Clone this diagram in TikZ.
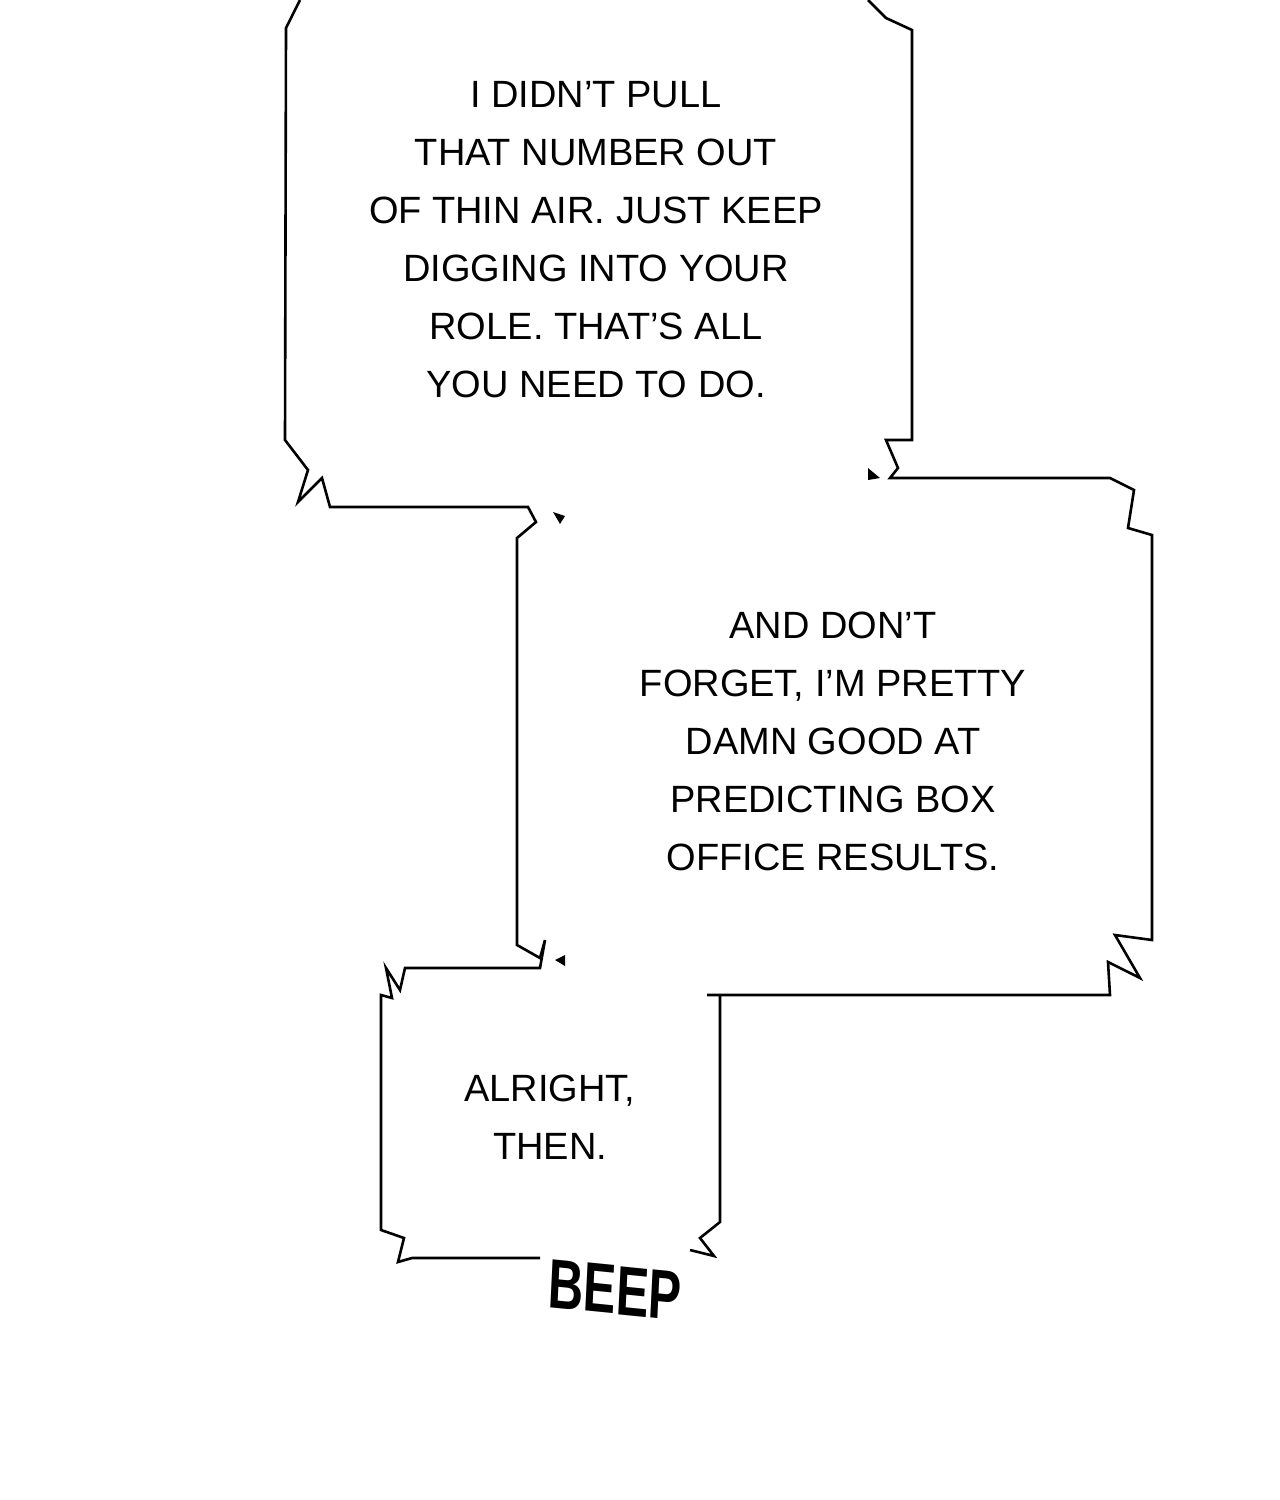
\documentclass[tikz,border=0pt]{standalone}
\usepackage{fontspec}
\setmainfont{Liberation Sans}
\begin{document}
\begin{tikzpicture}[x=1pt,y=-1pt]
\tikzset{outline/.style={line width=2.6pt,line join=miter},
 talk/.style={align=center,font=\fontsize{38}{58}\selectfont}}
\useasboundingbox (0,0) rectangle (1280,1500);
% left side of the boxes
\draw[outline] (300,0) -- (286,28) -- (285,440) -- (308,470) -- (298,502) -- (322,478) -- (330,507)
  -- (528,507) -- (536,522) -- (517,538) -- (517,945) -- (540,958) -- (545,940) -- (540,968)
  -- (405,968) -- (400,990) -- (386,968) -- (392,998) -- (381,995) -- (381,1230) -- (404,1238)
  -- (398,1262) -- (412,1258) -- (540,1258);
% right side of the boxes
\draw[outline] (868,0) -- (886,18) -- (912,30) -- (912,440) -- (886,440) -- (898,468) -- (890,478)
  -- (1110,478) -- (1134,490) -- (1128,528) -- (1152,535) -- (1152,940) -- (1115,935) -- (1140,978)
  -- (1108,962) -- (1110,995) -- (707,995);
\draw[outline] (720,995) -- (720,1222) -- (700,1238) -- (714,1256) -- (690,1250);
% small marks
\fill (553,512) -- (565,516) -- (560,524) -- cycle;
\fill (555,960) -- (565,955) -- (565,966) -- cycle;
\fill (868,468) -- (880,478) -- (868,480) -- cycle;
% texts
\node[talk] (t1) at (596,240) {I DIDN'T PULL\\THAT NUMBER OUT\\OF THIN AIR. JUST KEEP\\DIGGING INTO YOUR\\ROLE. THAT'S ALL\\YOU NEED TO DO.};
\node[talk] (t2) at (833,741) {AND DON'T\\FORGET, I'M PRETTY\\DAMN GOOD AT\\PREDICTING BOX\\OFFICE RESULTS.};
\node[talk] (t3) at (550,1117) {ALRIGHT,\\THEN.};
\node[font=\fontsize{70}{70}\selectfont\bfseries,xscale=0.7,rotate=-4] (beep) at (615,1290) {BEEP};
\end{tikzpicture}
\end{document}
